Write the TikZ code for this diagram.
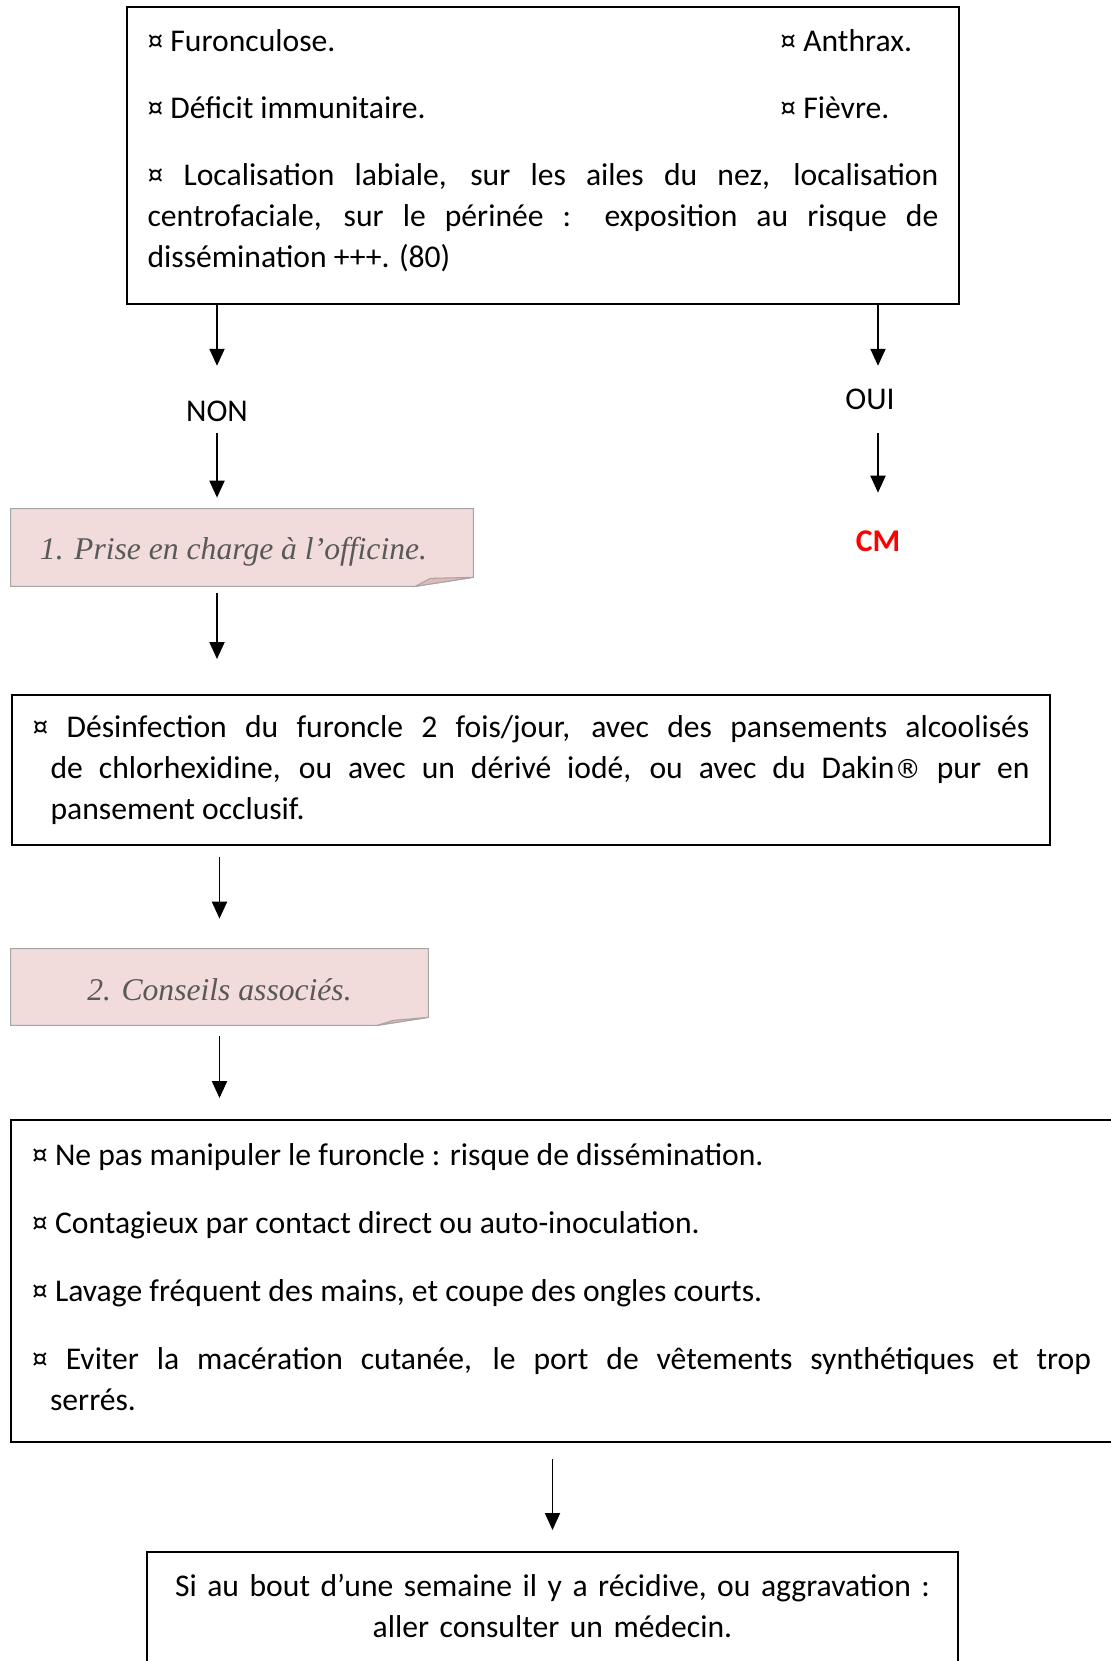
\documentclass[tikz,border=0pt]{standalone}
\usepackage{fontspec}
\setmainfont{Carlito}
\newfontfamily\titrefont{Liberation Serif}
\newfontfamily\symbfont{DejaVu Sans}
\usepackage{xcolor}
\usetikzlibrary{arrows.meta,backgrounds}
\definecolor{rose}{RGB}{242,219,219}
\definecolor{rosefonce}{RGB}{229,184,183}
\definecolor{bordgris}{RGB}{166,166,166}
\definecolor{textegris}{RGB}{89,89,89}
\tikzstyle{cadre}=[
        draw,
        line width = 1.1pt,
        inner ysep = 0pt,
        inner xsep = 0.41cm,
        align = justify,
        font = \fontsize{18pt}{0.82cm}\selectfont
    ]
\tikzstyle{note rose}=[
        inner sep = 0pt,
        font = \titrefont\itshape\fontsize{18pt}{20pt}\selectfont,
        text = textegris
    ]
\tikzstyle{etiquette}=[
        inner sep = 0pt,
        font = \fontsize{18pt}{20pt}\selectfont
    ]

\begin{document}
\begin{tikzpicture}[x=0.02cm, y=-0.02cm, fleche/.style = {-{Triangle[length=0.34cm,width=0.3cm]}, line width=1.1pt}]
        \useasboundingbox (0,0) rectangle (1110,1661);

        \node[cadre, text width=15.82cm, minimum height=5.94cm] (F) at (543,155.5) {%
            \makebox[12.66cm][l]{¤ Furonculose.}¤ Anthrax.\\[0.52cm]
            \makebox[12.66cm][l]{¤ Déficit immunitaire.}¤ Fièvre.\\[0.52cm]
            ¤ Localisation labiale, sur les ailes du nez, localisation\linebreak
            centrofaciale, sur le périnée~: exposition au risque de\linebreak
            dissémination +++. (80)\rule[-0.27cm]{0pt}{0pt}\par};
        \node[etiquette] (NON) at (217,411) {NON};
        \node[etiquette] (OUI) at (870,399) {OUI};
        \node[etiquette, font=\bfseries\fontsize{18pt}{20pt}\selectfont, text=red] (CM) at (878,541) {CM};
        \node[note rose, minimum width=9.24cm, minimum height=1.54cm, text height=17.1pt, text depth=4pt] (P1) at (242,547.5) {1. Prise en charge à l’officine.\hspace*{0.34cm}};
        \node[cadre, text width=19.94cm, inner xsep=0.42cm, minimum height=3cm] (D) at (531,770) {%
            \hangindent=0.36cm \hangafter=1 ¤ Désinfection du furoncle 2 fois/jour, avec des pansements alcoolisés\linebreak
            de chlorhexidine, ou avec un dérivé iodé, ou avec du Dakin{\symbfont\fontsize{15pt}{15pt}\selectfont ®} pur en\linebreak
            pansement occlusif.\par};
        \node[note rose, minimum width=8.34cm, minimum height=1.52cm, text height=15.9pt, text depth=0pt] (P2) at (219.5,987) {2. Conseils associés.};
        \node[cadre, text width=21.18cm, inner xsep=0.42cm, minimum height=6.44cm] (C) at (561.5,1281) {%
            ¤ Ne pas manipuler le furoncle~: risque de dissémination.\par\vspace{0.54cm}
            ¤ Contagieux par contact direct ou auto-inoculation.\par\vspace{0.54cm}
            ¤ Lavage fréquent des mains, et coupe des ongles courts.\par\vspace{0.54cm}
            \hangindent=0.36cm \hangafter=1 ¤ Eviter la macération cutanée, le port de vêtements synthétiques et trop\linebreak
            serrés.\rule[-0.17cm]{0pt}{0pt}\par};
        \node[cadre, align=center, anchor=north, text width=15.4cm, inner ysep=0.44cm] (S) at (552.5,1551) {%
            Si au bout d’une semaine il y a récidive, ou aggravation~:\\ aller consulter un médecin.\rule[-2cm]{0pt}{0pt}};

        \begin{scope}[on background layer]
            \filldraw[fill=rose, draw=bordgris, line width=0.6pt] (P1.north west) -- (P1.north east) -- ([yshift=0.18cm]P1.south east) -- ([xshift=-1.16cm]P1.south east) -- (P1.south west) -- cycle;
            \filldraw[fill=rosefonce, draw=bordgris, line width=0.6pt] ([xshift=-1.16cm]P1.south east) -- ([xshift=-0.86cm, yshift=0.16cm]P1.south east) -- ([yshift=0.18cm]P1.south east) -- cycle;
            \filldraw[fill=rose, draw=bordgris, line width=0.6pt] (P2.north west) -- (P2.north east) -- ([yshift=0.16cm]P2.south east) -- ([xshift=-1.02cm]P2.south east) -- (P2.south west) -- cycle;
            \filldraw[fill=rosefonce, draw=bordgris, line width=0.6pt] ([xshift=-1.02cm]P2.south east) -- ([xshift=-0.7cm, yshift=0.1cm]P2.south east) -- ([yshift=0.16cm]P2.south east) -- cycle;
        \end{scope}

        \draw[fleche, shorten >=0.69cm] (F.south -| NON) -- (NON);
        \draw[fleche, shorten <=0.23cm, shorten >=0.22cm] (NON) -- (P1.north -| NON);
        \draw[fleche, shorten >=0.45cm] (F.south -| CM) -- (OUI.north -| CM);
        \draw[fleche, shorten <=0.47cm, shorten >=0.75cm] (OUI.south -| CM) -- (CM);
        \draw[fleche, shorten <=0.14cm, shorten >=0.7cm] (P1.south -| NON) -- (D.north -| NON);
        \draw[fleche, shorten <=0.22cm, shorten >=0.6cm] (D.south -| P2) -- (P2);
        \draw[fleche, shorten <=0.22cm, shorten >=0.42cm] (P2) -- (C.north -| P2);
        \draw[fleche, shorten <=0.32cm, shorten >=0.42cm] (C.south -| S) -- (S);
    \end{tikzpicture}
\end{document}
